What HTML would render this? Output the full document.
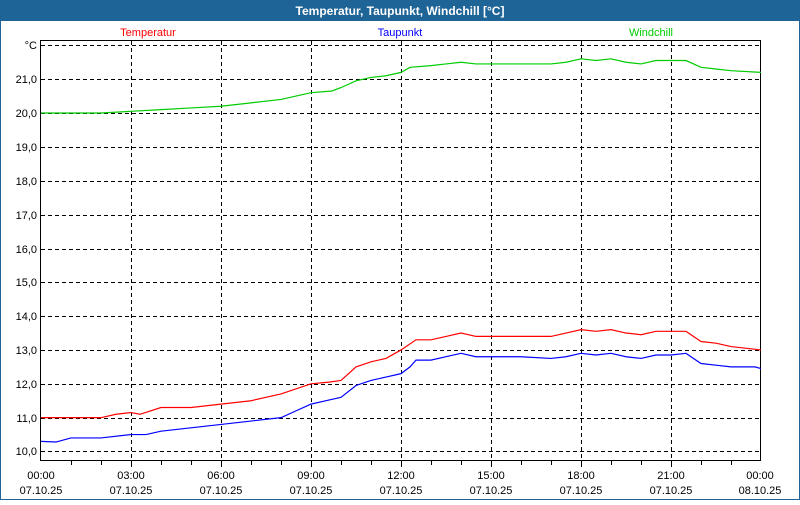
<!DOCTYPE html>
<html><head><meta charset="utf-8"><style>
body{margin:0;width:800px;height:500px;overflow:hidden;background:#fff;font-family:"Liberation Sans",sans-serif}
</style></head><body>
<svg width="800" height="500" xmlns="http://www.w3.org/2000/svg" font-family="Liberation Sans, sans-serif" font-size="11">
<rect x="0" y="0" width="800" height="500" fill="#1e6496"/>
<rect x="1" y="21" width="798" height="478" fill="#fff"/>
<text x="400" y="15" fill="#fff" font-weight="bold" font-size="12" text-anchor="middle">Temperatur, Taupunkt, Windchill [°C]</text>
<text x="148" y="36" fill="#f00" text-anchor="middle">Temperatur</text>
<text x="400" y="36" fill="#00f" text-anchor="middle">Taupunkt</text>
<text x="651" y="36" fill="#0c0" text-anchor="middle">Windchill</text>
<g stroke="#000" stroke-dasharray="4,3" stroke-width="1">
<path d="M41 45.5H760M41 79.5H760M41 113.5H760M41 147.5H760M41 181.5H760M41 215.5H760M41 249.5H760M41 282.5H760M41 316.5H760M41 350.5H760M41 384.5H760M41 418.5H760M41 451.5H760"/>
<path d="M131.5 41V460M221.5 41V460M311.5 41V460M401.5 41V460M491.5 41V460M581.5 41V460M671.5 41V460"/>
</g>
<rect x="40.5" y="40.5" width="720" height="420" fill="none" stroke="#000"/>
<g stroke="#000"><path d="M71.5 461v4M101.5 461v4M131.5 461v6M161.5 461v4M191.5 461v4M221.5 461v6M251.5 461v4M281.5 461v4M311.5 461v6M341.5 461v4M371.5 461v4M401.5 461v6M431.5 461v4M461.5 461v4M491.5 461v6M521.5 461v4M551.5 461v4M581.5 461v6M611.5 461v4M641.5 461v4M671.5 461v6M701.5 461v4M731.5 461v4"/></g>
<g text-anchor="end" font-size="11">
<text x="37" y="49">°C</text><text x="37" y="83">21,0</text><text x="37" y="117">20,0</text><text x="37" y="151">19,0</text><text x="37" y="185">18,0</text><text x="37" y="219">17,0</text><text x="37" y="253">16,0</text><text x="37" y="286">15,0</text><text x="37" y="320">14,0</text><text x="37" y="354">13,0</text><text x="37" y="388">12,0</text><text x="37" y="422">11,0</text><text x="37" y="455">10,0</text>
</g>
<g text-anchor="middle" font-size="11">
<text x="41" y="479">00:00</text><text x="41" y="494">07.10.25</text>
<text x="131" y="479">03:00</text><text x="131" y="494">07.10.25</text>
<text x="221" y="479">06:00</text><text x="221" y="494">07.10.25</text>
<text x="311" y="479">09:00</text><text x="311" y="494">07.10.25</text>
<text x="401" y="479">12:00</text><text x="401" y="494">07.10.25</text>
<text x="491" y="479">15:00</text><text x="491" y="494">07.10.25</text>
<text x="581" y="479">18:00</text><text x="581" y="494">07.10.25</text>
<text x="671" y="479">21:00</text><text x="671" y="494">07.10.25</text>
<text x="760" y="479">00:00</text><text x="760" y="494">08.10.25</text>
</g>
<g transform="translate(41,451.5) scale(30,-33.85)" fill="none" stroke-width="1.2">
<polyline vector-effect="non-scaling-stroke" stroke="#f00" points="0,1 2,1 2.5,1.1 3,1.15 3.3,1.1 4,1.3 5,1.3 6,1.4 7,1.5 8,1.7 9,2 9.6,2.05 10,2.1 10.5,2.5 11,2.65 11.5,2.75 12,3 12.5,3.3 13,3.3 13.5,3.4 14,3.5 14.5,3.4 15,3.4 16,3.4 17,3.4 17.5,3.5 18,3.6 18.5,3.55 19,3.6 19.5,3.5 20,3.45 20.5,3.55 21,3.55 21.5,3.55 22,3.25 22.5,3.2 23,3.1 24,3"/>
<polyline vector-effect="non-scaling-stroke" stroke="#00f" points="0,0.3 0.5,0.28 1,0.4 2,0.4 3,0.5 3.5,0.5 4,0.6 5,0.7 6,0.8 7,0.9 8,1 8.5,1.2 9,1.4 9.5,1.5 10,1.6 10.5,1.95 11,2.1 11.5,2.2 12,2.3 12.3,2.5 12.5,2.7 13,2.7 13.5,2.8 14,2.9 14.5,2.8 15,2.8 16,2.8 17,2.75 17.5,2.8 18,2.9 18.5,2.85 19,2.9 19.5,2.8 20,2.75 20.5,2.85 21,2.85 21.5,2.9 22,2.6 22.5,2.55 23,2.5 23.8,2.5 24,2.45"/>
<polyline vector-effect="non-scaling-stroke" stroke="#0c0" points="0,10 2,10 3,10.05 4,10.1 5,10.15 6,10.2 7,10.3 8,10.4 8.5,10.5 9,10.6 9.7,10.65 10,10.75 10.5,10.95 11,11.05 11.5,11.1 12,11.2 12.3,11.35 13,11.4 13.5,11.45 14,11.5 14.5,11.45 15,11.45 16,11.45 17,11.45 17.5,11.5 18,11.6 18.5,11.55 19,11.6 19.5,11.5 20,11.45 20.5,11.55 21,11.55 21.5,11.55 22,11.35 22.5,11.3 23,11.25 24,11.2"/>
</g>
</svg>
</body></html>
